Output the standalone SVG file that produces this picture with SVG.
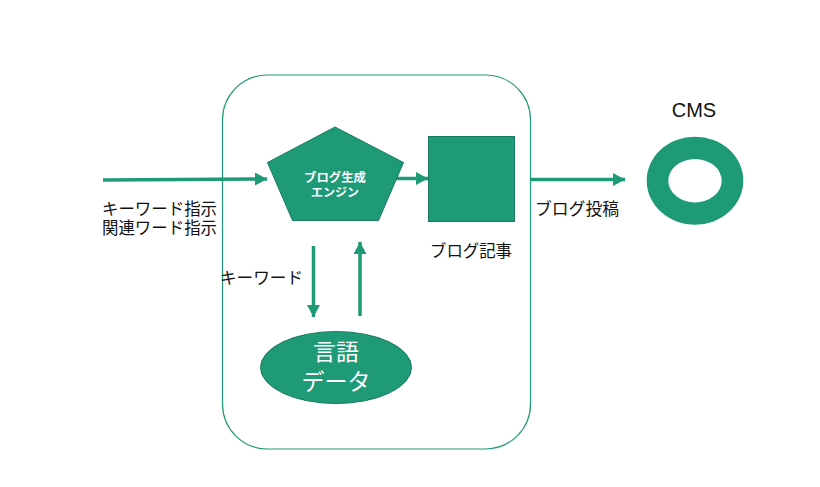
<svg xmlns="http://www.w3.org/2000/svg" width="820" height="487" viewBox="0 0 820 487">
<style>
.shape{fill:#1f9a77;stroke:#187a5e;stroke-width:1}
.conn{stroke:#1f9a77;stroke-width:3.5;fill:none}
.lbl{font-family:"Noto Sans CJK JP","Liberation Sans",sans-serif;font-size:16.5px;fill:#111}
.wt{font-family:"Noto Sans CJK JP","Liberation Sans",sans-serif;fill:#fff;text-anchor:middle}
</style>
<defs>
<marker id="ah" markerUnits="userSpaceOnUse" markerWidth="13" markerHeight="13" refX="12" refY="6.5" orient="auto">
<path d="M0,0 L12,6.5 L0,13 Z" fill="#1f9a77"/>
</marker>
</defs>
<rect width="820" height="487" fill="#fff"/>
<g id="system">
<rect x="222.5" y="75" width="308" height="374" rx="45" ry="45" fill="none" stroke="#1f9a77" stroke-width="1.2"/>
</g>
<g id="connectors">
<line class="conn" x1="103" y1="180" x2="267" y2="179" marker-end="url(#ah)"/>
<line class="conn" x1="396" y1="178.5" x2="428" y2="178.5" marker-end="url(#ah)"/>
<line class="conn" x1="530" y1="179.5" x2="625" y2="179.5" marker-end="url(#ah)"/>
<line class="conn" x1="313.5" y1="246" x2="313.5" y2="317" marker-end="url(#ah)"/>
<line class="conn" x1="360" y1="316" x2="360" y2="242" marker-end="url(#ah)"/>
</g>
<g id="input-label">
<text class="lbl"><tspan x="102" y="214.5" textLength="115" lengthAdjust="spacingAndGlyphs">キーワード指示</tspan><tspan x="102" y="234" textLength="115" lengthAdjust="spacingAndGlyphs">関連ワード指示</tspan></text>
</g>
<g id="engine">
<polygon class="shape" points="335,127 403.5,162.5 378.5,220.5 292.5,220.5 267.5,162.5"/>
<text class="wt" x="335" y="182" font-size="12" font-weight="bold" textLength="62" lengthAdjust="spacingAndGlyphs">ブログ生成</text>
<text class="wt" x="335" y="197" font-size="12" font-weight="bold" textLength="48" lengthAdjust="spacingAndGlyphs">エンジン</text>
</g>
<g id="article">
<rect class="shape" x="428.5" y="136.5" width="86" height="85"/>
<text class="lbl" x="430" y="257" textLength="82" lengthAdjust="spacingAndGlyphs">ブログ記事</text>
</g>
<g id="post-label">
<text class="lbl" x="535" y="215" textLength="84" lengthAdjust="spacingAndGlyphs">ブログ投稿</text>
</g>
<g id="cms">
<path d="M646.7,180.7 a48.3,44 0 1,0 96.6,0 a48.3,44 0 1,0 -96.6,0 Z M668.3,180.7 a26.7,21.7 0 1,1 53.4,0 a26.7,21.7 0 1,1 -53.4,0 Z" fill="#1f9a77" fill-rule="evenodd"/>
<text x="694" y="117" font-family="'Liberation Sans',Arial,sans-serif" font-size="20" fill="#111" text-anchor="middle">CMS</text>
</g>
<g id="keyword-label">
<text class="lbl" x="220" y="284" textLength="83" lengthAdjust="spacingAndGlyphs">キーワード</text>
</g>
<g id="langdata">
<ellipse class="shape" cx="336" cy="367.5" rx="75.5" ry="36"/>
<text class="wt" x="336" y="360" font-size="23">言語</text>
<text class="wt" x="336" y="390" font-size="23" textLength="69" lengthAdjust="spacingAndGlyphs">データ</text>
</g>
</svg>
